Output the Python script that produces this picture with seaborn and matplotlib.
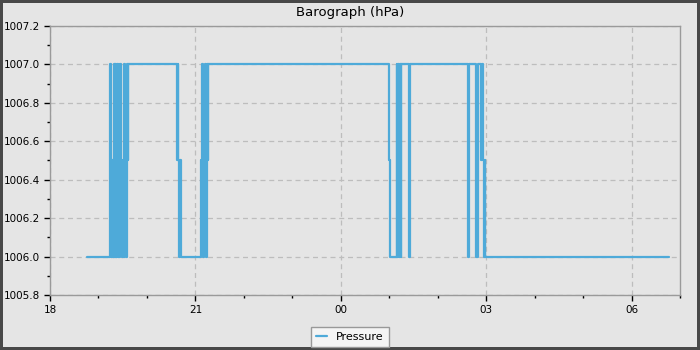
import matplotlib
matplotlib.use("Agg")
import matplotlib.pyplot as plt
import matplotlib.dates as mdates
from matplotlib.ticker import MultipleLocator
import pandas as pd
import seaborn as sns

# minutes after 18:00 at which the reading changes, and the new reading (hPa)
minutes = [46, 74, 76, 77, 78, 79, 80, 81, 82, 83, 84, 85, 86, 87, 88, 89, 90, 91,
           92, 93, 94, 95, 96, 97,
           157, 158, 159, 160, 161, 162,
           187, 188, 189, 190, 191, 192, 193, 194, 195, 196,
           420, 421, 429, 430, 431, 432, 433, 434, 435, 445, 446,
           518, 519, 528, 530, 534, 535, 536, 537, 538, 539, 766]
pressure = [1006.0, 1007.0, 1006.0, 1006.5, 1006.0, 1007.0, 1006.0, 1007.0, 1006.0,
            1007.0, 1006.0, 1007.0, 1006.0, 1007.0, 1006.5, 1006.0, 1006.5, 1006.0,
            1007.0, 1006.5, 1006.0, 1007.0, 1006.5, 1007.0,
            1006.5, 1007.0, 1006.5, 1006.0, 1006.5, 1006.0,
            1006.5, 1007.0, 1006.5, 1006.0, 1006.5, 1007.0, 1006.0, 1007.0, 1006.5, 1007.0,
            1006.5, 1006.0, 1007.0, 1006.0, 1007.0, 1006.0, 1007.0, 1006.0, 1007.0, 1006.0, 1007.0,
            1006.0, 1007.0, 1006.0, 1007.0, 1006.5, 1007.0, 1006.5, 1006.0, 1006.5, 1006.0, 1006.0]
series_name = "Pressure"
title = "Barograph (hPa)"

start = pd.Timestamp("2024-01-01 18:00")
df = pd.DataFrame({
    "time": start + pd.to_timedelta(minutes, unit="m"),
    "hPa": pressure,
})

sns.set_style("whitegrid")
plt.rcParams["font.family"] = ["DejaVu Sans"]

bg = "#e5e5e5"
fig = plt.figure(figsize=(7, 3.5), dpi=100, facecolor=bg)
fig.patch.set_edgecolor("#484848")
fig.patch.set_linewidth(3)
ax = fig.add_axes([50 / 700, 1 - 295 / 350, 630 / 700, 269 / 350])
ax.set_facecolor(bg)

sns.lineplot(data=df, x="time", y="hPa", ax=ax, color="#4eaad9", linewidth=1.6,
             drawstyle="steps-post", estimator=None, label=series_name, legend=False)

ax.set_xlim(start, start + pd.Timedelta(hours=13))
ax.set_ylim(1005.8, 1007.2)
ax.xaxis.set_major_locator(mdates.HourLocator(byhour=[0, 3, 6, 9, 12, 15, 18, 21]))
ax.xaxis.set_minor_locator(mdates.HourLocator())
ax.xaxis.set_major_formatter(mdates.DateFormatter("%H"))
ax.yaxis.set_major_locator(MultipleLocator(0.2))
ax.yaxis.set_minor_locator(MultipleLocator(0.1))
ax.yaxis.set_major_formatter(matplotlib.ticker.FormatStrFormatter("%.1f"))

ax.set_xlabel("")
ax.set_ylabel("")
fig.text(0.5, 1 - 12.5 / 350, title, ha="center", va="center", fontsize=9.5, color="black")

ax.grid(True, which="major", linestyle=(0, (4, 3)), color="#bdbdbd", linewidth=0.9)
ax.grid(False, which="minor")
for s in ax.spines.values():
    s.set_color("#9a9a9a")
    s.set_linewidth(1.0)

ax.tick_params(axis="both", which="major", direction="out", length=4, width=1,
               color="black", labelcolor="black", labelsize=7.5, bottom=True, left=True)
ax.tick_params(axis="both", which="minor", direction="out", length=2.5, width=1,
               color="black", bottom=True, left=True)

handles, labels = ax.get_legend_handles_labels()
leg = fig.legend(handles, labels, loc="upper center", bbox_to_anchor=(0.5, 1 - 327 / 350),
                 fontsize=8, frameon=True, fancybox=False, framealpha=1, facecolor="#f4f4f4",
                 edgecolor="#999999", handlelength=1.0, borderpad=0.45, borderaxespad=0)
for t in leg.get_texts():
    t.set_color("black")

fig.savefig("out.png", dpi=100, facecolor=fig.get_facecolor(), edgecolor=fig.get_edgecolor())
